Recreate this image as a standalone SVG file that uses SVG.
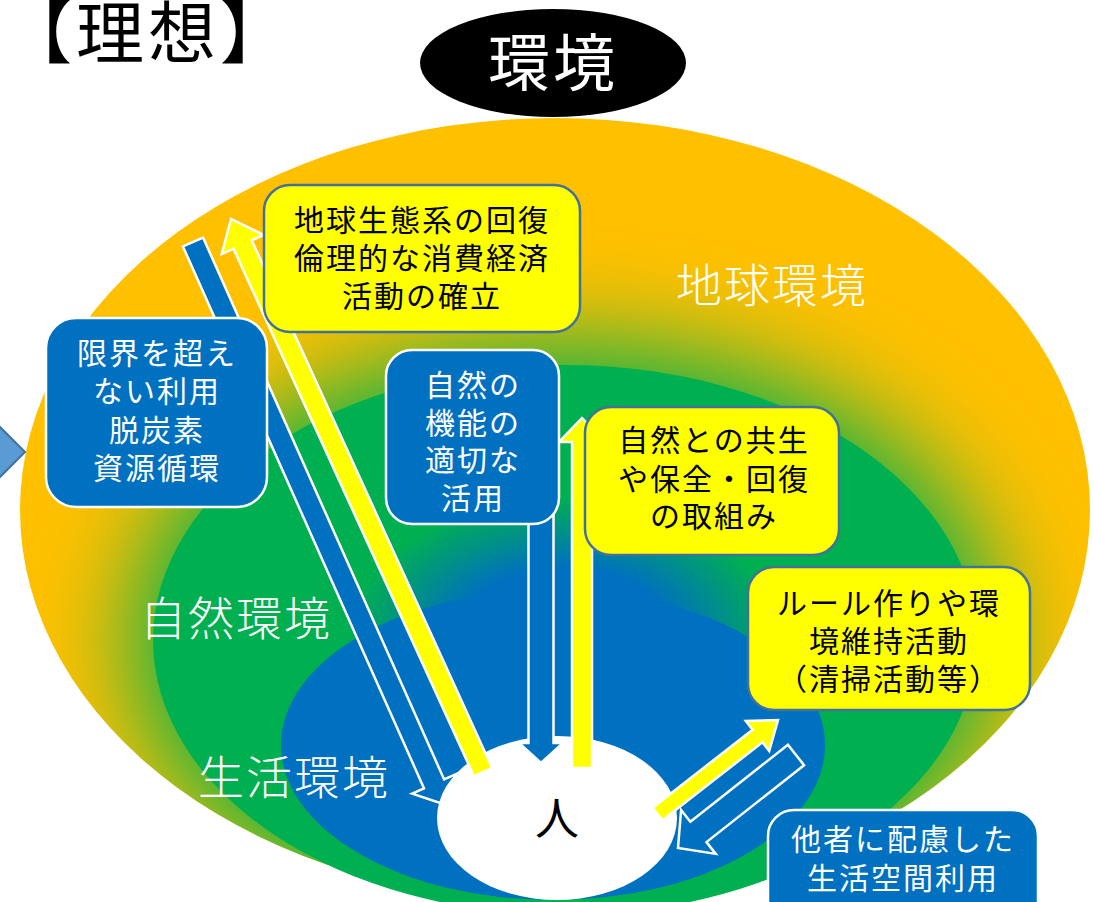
<svg xmlns="http://www.w3.org/2000/svg" width="1094" height="902" viewBox="0 0 1094 902">
<style>
.ybox{fill:#FFFF00;stroke:#41719C;stroke-width:2.5}
.bbox{fill:#0070C0;stroke:#FFFFFF;stroke-width:2.5}
.t{font-family:'Noto Sans CJK JP','Noto Sans CJK SC',sans-serif}
.bt{font-size:30px;letter-spacing:2px;text-anchor:middle}
.dk{fill:#000000}
.lt{fill:#FFFFFF}
.region{font-size:46px;fill:#FFFFFF;font-weight:300;letter-spacing:2px}
.ab{fill:#0070C0;stroke:#FFFFFF;stroke-width:2.5;stroke-linejoin:miter}
.ay{fill:#FFFF00;stroke:#FFFFFF;stroke-width:2.5;stroke-linejoin:miter}
</style>
<defs>
<clipPath id="outerClip"><ellipse cx="555" cy="510" rx="535" ry="392"/></clipPath>
<filter id="glowBlur" x="-25%" y="-35%" width="150%" height="170%"><feGaussianBlur stdDeviation="50"/></filter>
<radialGradient id="greenGrad" gradientUnits="userSpaceOnUse" cx="565" cy="640" r="180" gradientTransform="translate(565 640) scale(1.5 1) translate(-565 -640)">
<stop offset="0" stop-color="#0070C0"/>
<stop offset="0.4" stop-color="#0070C0"/>
<stop offset="0.8" stop-color="#00B050"/>
<stop offset="1" stop-color="#00B050"/>
</radialGradient>
</defs>
<rect width="1094" height="902" fill="#FFFFFF"/>
<g id="background">
<ellipse cx="555" cy="510" rx="535" ry="392" fill="#FFC000"/>
<g clip-path="url(#outerClip)"><ellipse cx="565" cy="640" rx="432" ry="295" fill="#00B050" filter="url(#glowBlur)"/></g>
<ellipse cx="565" cy="640" rx="412" ry="275" fill="url(#greenGrad)"/>
<ellipse cx="553" cy="745" rx="272" ry="155" fill="#0070C0"/>
<text class="t region" x="676" y="302">地球環境</text>
<text class="t region" x="140" y="635">自然環境</text>
<text class="t region" x="198" y="794">生活環境</text>
</g>
<g id="connectors">
<polygon class="ab" points="182.95,246.47 424.01,788.37 412.13,793.65 443,804 455.99,774.15 444.11,779.43 203.05,237.53"/>
</g>
<g id="node-person">
<ellipse cx="557" cy="818" rx="120" ry="82" fill="#FFFFFF"/>
<text class="t dk" x="557" y="835" font-size="44" text-anchor="middle">人</text>
</g>
<g id="connectors-2">
<polygon class="ay" points="492.10,767.85 251.71,240.33 263.54,234.94 231,219 221.68,254.02 233.51,248.63 473.90,776.15"/>
<polygon class="ab" points="528.5,500 528.5,743 519,743 541,763 563,743 553.5,743 553.5,500"/>
<polygon class="ay" points="572,768 572,442 559,442 582,418 605,442 592,442 592,768"/>
<polygon class="ay" points="662.42,820.31 762.42,742.31 769.19,750.98 778,720 745.81,721.02 752.58,729.69 652.58,807.69"/>
<polygon class="ab" points="787.95,744.79 690.37,821.69 681.09,809.91 678,848 715.75,853.89 706.47,842.11 804.05,765.21"/>
</g>
<g id="node-earth-recovery">
<rect class="ybox" x="264" y="185" width="316" height="147" rx="26"/>
<text class="t bt dk"><tspan x="422" y="231">地球生態系の回復</tspan><tspan x="422" y="269">倫理的な消費経済</tspan><tspan x="422" y="307">活動の確立</tspan></text>
</g>
<g id="node-limit">
<rect class="bbox" x="46" y="318" width="221" height="189" rx="30"/>
<text class="t bt lt"><tspan x="157" y="364">限界を超え</tspan><tspan x="157" y="402">ない利用</tspan><tspan x="157" y="441">脱炭素</tspan><tspan x="157" y="479">資源循環</tspan></text>
</g>
<g id="node-nature-use">
<rect class="bbox" x="386" y="350" width="173" height="174" rx="26"/>
<text class="t bt lt"><tspan x="473" y="396">自然の</tspan><tspan x="473" y="434">機能の</tspan><tspan x="473" y="471">適切な</tspan><tspan x="473" y="509">活用</tspan></text>
</g>
<g id="node-coexist">
<rect class="ybox" x="585" y="407" width="254" height="148" rx="26"/>
<text class="t bt dk"><tspan x="714" y="451">自然との共生</tspan><tspan x="714" y="490">や保全・回復</tspan><tspan x="714" y="527">の取組み</tspan></text>
</g>
<g id="node-rules">
<rect class="ybox" x="748" y="567" width="282" height="143" rx="26"/>
<text class="t bt dk"><tspan x="889" y="614">ルール作りや環</tspan><tspan x="889" y="652">境維持活動</tspan><tspan x="889" y="690">（清掃活動等）</tspan></text>
</g>
<g id="node-consideration">
<rect class="bbox" x="768" y="810" width="270" height="120" rx="26"/>
<text class="t bt lt"><tspan x="903" y="850">他者に配慮した</tspan><tspan x="903" y="889">生活空間利用</tspan></text>
</g>
<g id="node-chevron">
<polygon points="-30,397 25,452 -30,507" fill="#5B9BD5" stroke="#41719C" stroke-width="2"/>
</g>
<g id="node-title">
<text class="t dk" x="4" y="58" font-size="68" letter-spacing="4">【理想】</text>
</g>
<g id="node-environment">
<ellipse cx="553" cy="63" rx="133" ry="54" fill="#000000"/>
<text class="t lt" x="553" y="86" font-size="62" letter-spacing="3" text-anchor="middle">環境</text>
</g>
</svg>
